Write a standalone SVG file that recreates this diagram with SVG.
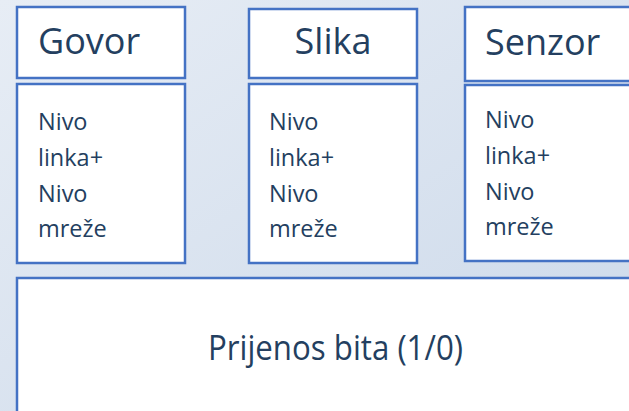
<svg xmlns="http://www.w3.org/2000/svg" width="629" height="411" viewBox="0 0 629 411">
<defs>
<linearGradient id="bg" x1="0" y1="0" x2="1" y2="1">
<stop offset="0" stop-color="#e7edf5"/>
<stop offset="1" stop-color="#ccd9ea"/>
</linearGradient>
</defs>
<style>
.box{fill:#ffffff;stroke:#4472c4;stroke-width:2.5}
.t{font-family:"Open Sans","Liberation Sans",sans-serif;fill:#243f60}
.title{font-size:36px}
.small{font-size:23.5px}
.big{font-size:35px}
</style>
<rect x="0" y="0" width="629" height="411" fill="url(#bg)"/>
<g id="govor">
<rect class="box" x="17" y="7" width="168" height="71"/>
<text class="t title" x="38" y="54">Govor</text>
</g>
<g id="govor-nivo">
<rect class="box" x="17" y="84" width="168" height="179"/>
<text class="t small"><tspan x="38" y="130">Nivo</tspan><tspan x="38" y="166">linka+</tspan><tspan x="38" y="202">Nivo</tspan><tspan x="38" y="237">mreže</tspan></text>
</g>
<g id="slika">
<rect class="box" x="249" y="9" width="168" height="69"/>
<text class="t title" x="333" y="54" text-anchor="middle">Slika</text>
</g>
<g id="slika-nivo">
<rect class="box" x="249" y="84" width="168" height="179"/>
<text class="t small"><tspan x="269" y="130">Nivo</tspan><tspan x="269" y="166">linka+</tspan><tspan x="269" y="202">Nivo</tspan><tspan x="269" y="237">mreže</tspan></text>
</g>
<g id="senzor">
<rect class="box" x="465" y="7" width="180" height="74"/>
<text class="t title" x="485" y="55">Senzor</text>
</g>
<g id="senzor-nivo">
<rect class="box" x="465" y="85" width="180" height="176"/>
<text class="t small"><tspan x="485" y="128">Nivo</tspan><tspan x="485" y="164">linka+</tspan><tspan x="485" y="200">Nivo</tspan><tspan x="485" y="235">mreže</tspan></text>
</g>
<g id="prijenos">
<rect class="box" x="17" y="278" width="630" height="150"/>
<text class="t big" x="208" y="360" textLength="255" lengthAdjust="spacingAndGlyphs">Prijenos bita (1/0)</text>
</g>
<g id="connectors"/>
</svg>
